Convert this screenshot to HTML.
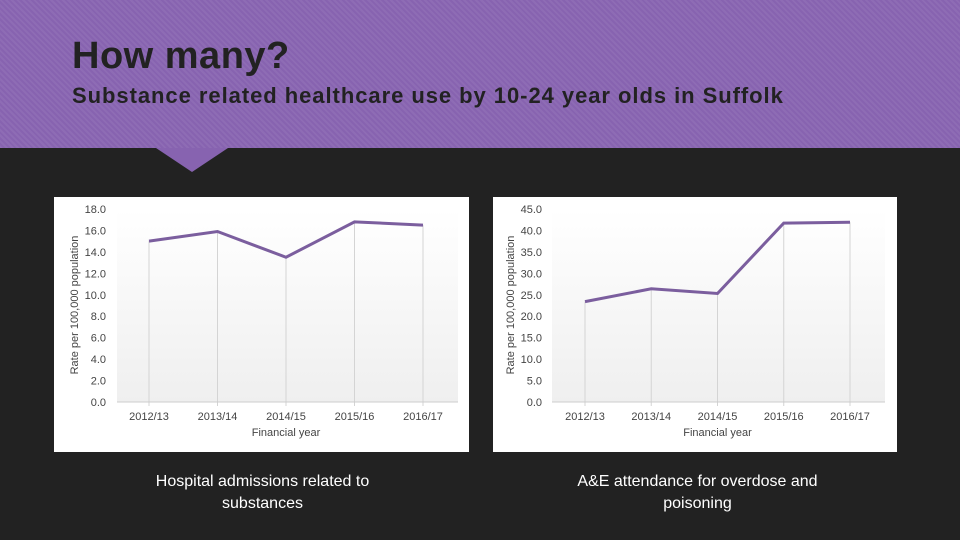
<!DOCTYPE html>
<html><head><meta charset="utf-8"><style>
body{margin:0;width:960px;height:540px;background:#222;overflow:hidden;font-family:"Liberation Sans",sans-serif;position:relative}
#hdr{position:absolute;left:0;top:0;width:960px;height:148px;background:#8763b0;background-image:repeating-linear-gradient(45deg,rgba(255,255,255,0.06) 0 2px,transparent 2px 4px)}
#notch{position:absolute;left:156px;top:148px;width:0;height:0;border-left:36px solid transparent;border-right:36px solid transparent;border-top:24px solid #8763b0}
h1{position:absolute;left:72px;top:35px;margin:0;font-size:38px;letter-spacing:0.5px;color:#222;font-weight:bold}
h2{position:absolute;left:72px;top:83px;margin:0;font-size:22px;letter-spacing:0.95px;color:#222;font-weight:bold}
.cap{position:absolute;color:#fff;font-size:16px;text-align:center;line-height:22px}
svg{position:absolute;left:0;top:0}
</style></head><body>
<div id="hdr"></div>
<div id="notch"></div>
<h1>How many?</h1>
<h2>Substance related healthcare use by 10-24 year olds in Suffolk</h2>
<svg id="s" width="960" height="540">
<defs><linearGradient id="g" x1="0" y1="0" x2="0" y2="1"><stop offset="0" stop-color="#fff"/><stop offset="1" stop-color="#efefef"/></linearGradient></defs>
</svg>
<div class="cap" style="left:120px;top:471px;width:285px">Hospital admissions related to substances</div>
<div class="cap" style="left:545px;top:471px;width:305px">A&amp;E attendance for overdose and poisoning</div>
<script>
const categories=["2012/13","2013/14","2014/15","2015/16","2016/17"];
const admissions=[15.0,15.9,13.5,16.8,16.5];
const aeAttendance=[23.4,26.4,25.3,41.7,41.9];
const leftTicks=[0,2,4,6,8,10,12,14,16,18];
const rightTicks=[0,5,10,15,20,25,30,35,40,45];
const NS="http://www.w3.org/2000/svg";
const svg=document.getElementById('s');
function mk(t,a,p){const e=document.createElementNS(NS,t);for(const k in a)e.setAttribute(k,a[k]);(p||svg).appendChild(e);return e;}
function chart(cfg,vals,ticks,max,nm){
  const g=mk('g',{});
  
  
  const panel=mk('rect',{x:cfg.px,y:197,width:cfg.pw,height:255,fill:'#fff'},g);
  
  
  const y0=402,y1=209;
  const ys=v=>y0-(v/max)*(y0-y1);
  const xs=i=>cfg.x0+i*(cfg.x4-cfg.x0)/(categories.length-1);
  mk('rect',{x:cfg.l,y:y1,width:cfg.r-cfg.l,height:y0-y1,fill:'url(#g)'},g);
  categories.forEach((c,i)=>{
    const l=mk('line',{x1:xs(i),x2:xs(i),y1:ys(vals[i]),y2:y0+4,stroke:'#d4d4d4','stroke-width':1},g);
    
    
    const t=mk('text',{x:xs(i),y:420,'text-anchor':'middle','font-size':11,fill:'#444'},g);t.textContent=c;
    
    
  });
  mk('line',{x1:cfg.l,x2:cfg.r,y1:y0,y2:y0,stroke:'#ccc'},g);
  ticks.forEach(v=>{
    const t=mk('text',{x:cfg.tx,y:ys(v)+4,'text-anchor':'end','font-size':11,fill:'#444'},g);t.textContent=v.toFixed(1);
    
    
  });
  const xt=mk('text',{x:xs(2),y:436,'text-anchor':'middle','font-size':11,fill:'#444'},g);xt.textContent='Financial year';
  
  
  const yt=mk('text',{x:0,y:0,'text-anchor':'middle','font-size':11,fill:'#444',transform:`translate(${cfg.ax},305) rotate(-90)`},g);yt.textContent='Rate per 100,000 population';
  
  
  const pl=mk('polyline',{points:vals.map((v,i)=>xs(i)+','+ys(v)).join(' '),fill:'none',stroke:'#7b5e9e','stroke-width':3},g);
  
  
}
chart({px:54,pw:415,l:117,r:458,x0:149,x4:423,tx:106,ax:78},admissions,leftTicks,18,'hospital-admissions-chart');
chart({px:493,pw:404,l:552,r:885,x0:585,x4:850,tx:542,ax:514},aeAttendance,rightTicks,45,'ae-attendance-chart');
</script>
</body></html>
